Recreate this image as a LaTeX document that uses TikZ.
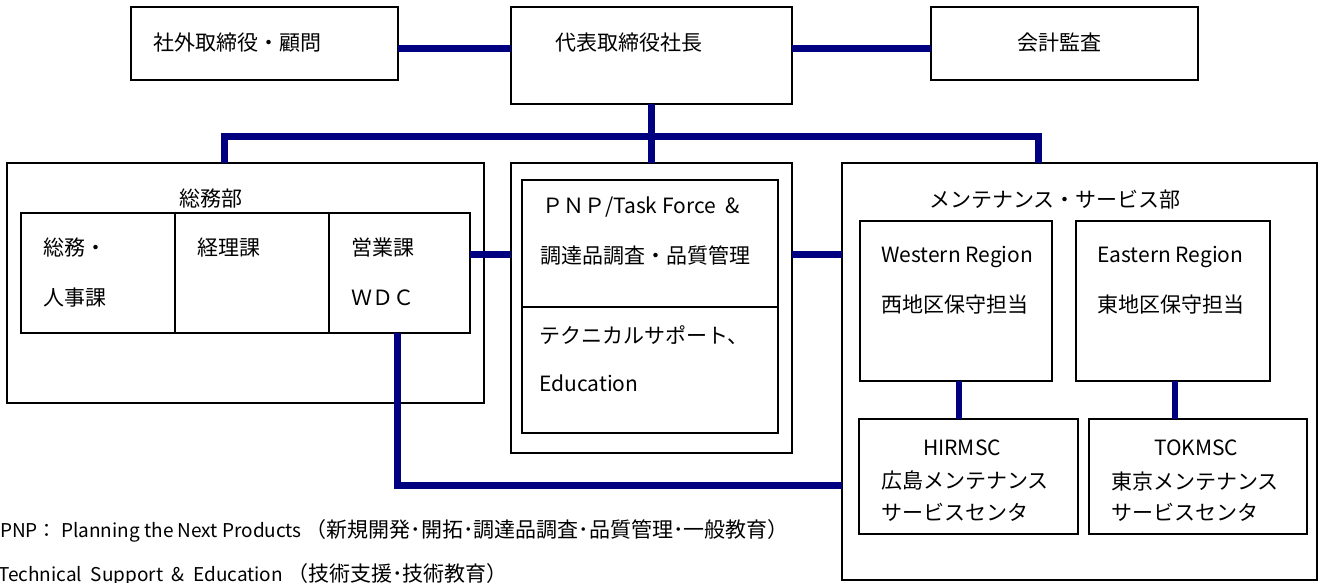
\documentclass[tikz,border=0pt]{standalone}
\usepackage{fontspec}
\setmainfont{Noto Sans CJK JP}
\definecolor{navyline}{RGB}{0,0,128}
\begin{document}
\begin{tikzpicture}[x=1pt,y=-1pt,
  outerbox/.style={draw=black,line width=2pt,inner sep=0pt,outer sep=0pt,anchor=north west},
  innerbox/.style={draw=black,line width=1.5pt,inner sep=0pt,outer sep=0pt,anchor=north west},
  link/.style={draw=navyline,line width=7pt},
  thinlink/.style={draw=navyline,line width=6pt},
  lbl/.style={anchor=west,inner sep=0pt,font=\fontsize{21}{24}\selectfont},
  note/.style={anchor=west,inner sep=0pt,font=\fontsize{19}{24}\selectfont}]
\useasboundingbox (0,0) rectangle (1320,582);
% top row
\node[outerbox,minimum width=267pt,minimum height=73pt] (adv) at (131,7) {};
\node[outerbox,minimum width=281pt,minimum height=97pt] (pres) at (511,7) {};
\node[outerbox,minimum width=267pt,minimum height=73pt] (audit) at (931,7) {};
% departments
\node[outerbox,minimum width=477pt,minimum height=240pt] (ga) at (7,163) {};
\node[outerbox,minimum width=281pt,minimum height=290pt] (mid) at (511,163) {};
\node[outerbox,minimum width=475pt,minimum height=417pt] (mt) at (842,163) {};
% general affairs sections
\node[innerbox,minimum width=154pt,minimum height=120pt] (s1) at (21,213) {};
\node[innerbox,minimum width=154pt,minimum height=120pt] (s2) at (175,213) {};
\node[innerbox,minimum width=141pt,minimum height=120pt] (s3) at (329,213) {};
% middle inner
\node[innerbox,minimum width=256pt,minimum height=127pt] (mA) at (522,180) {};
\node[innerbox,minimum width=256pt,minimum height=126pt] (mB) at (522,307) {};
% maintenance
\node[innerbox,minimum width=192pt,minimum height=160pt] (wr) at (860,221) {};
\node[innerbox,minimum width=194pt,minimum height=160pt] (er) at (1076,221) {};
\node[innerbox,minimum width=219pt,minimum height=115pt] (hir) at (859,419) {};
\node[innerbox,minimum width=218pt,minimum height=115pt] (tok) at (1089,419) {};
% coordinates for connectors
\coordinate (busM) at (651,136);
\coordinate (busL) at (224,136);
\coordinate (busR) at (1038,136);
\coordinate (linkY) at (0,254);
\coordinate (topY) at (0,48);
\coordinate (wdcturn) at (397,485);
\coordinate (wX) at (959,0);
\coordinate (eX) at (1175,0);
% connectors
\draw[link] (adv.east |- topY) -- (pres.west |- topY);
\draw[link] (pres.east |- topY) -- (audit.west |- topY);
\draw[link] (pres.south -| busM) -- (mid.north -| busM);
\draw[link] (busL |- ga.north) -- (busL) -- (busR) -- (busR |- mt.north);
\draw[link] (s3.east |- linkY) -- (mid.west |- linkY);
\draw[link] (mid.east |- linkY) -- (mt.west |- linkY);
\draw[link] (s3.south -| wdcturn) -- (wdcturn) -- (wdcturn -| mt.west);
\draw[thinlink] (wr.south -| wX) -- (hir.north -| wX);
\draw[thinlink] (er.south -| eX) -- (tok.north -| eX);
% labels
\node[lbl] (tadv) at (153,43) {社外取締役・顧問};
\node[lbl] (tpres) at (555,43) {代表取締役社長};
\node[lbl] (taudit) at (1017,43) {会計監査};
\node[lbl] (tga) at (179,199) {総務部};
\node[lbl] (t1a) at (43,248) {総務・};
\node[lbl] (t1b) at (43,298) {人事課};
\node[lbl] (t2) at (197,248) {経理課};
\node[lbl] (t3a) at (351,248) {営業課};
\node[lbl] (t3b) at (351,298) {ＷＤＣ};
\node[lbl] (tmA1) at (542,207) {ＰＮＰ/Task Force\ \ \&};
\node[lbl] (tmA2) at (540,256) {調達品調査・品質管理};
\node[lbl] (tmB1) at (539,335) {テクニカルサポート、};
\node[lbl] (tmB2) at (539,383) {Education};
\node[lbl] (tmt) at (929,200) {メンテナンス・サービス部};
\node[lbl] (twr1) at (881,257) {Western Region};
\node[lbl] (twr2) at (881,305) {西地区保守担当};
\node[lbl] (ter1) at (1097,257) {Eastern Region};
\node[lbl] (ter2) at (1097,305) {東地区保守担当};
\node[lbl] (thir1) at (923,448) {HIRMSC};
\node[lbl] (thir2) at (881,481) {広島メンテナンス};
\node[lbl] (thir3) at (881,512) {サービスセンタ};
\node[lbl] (ttok1) at (1154,448) {TOKMSC};
\node[lbl] (ttok2) at (1111,481) {東京メンテナンス};
\node[lbl] (ttok3) at (1111,512) {サービスセンタ};
% footnotes
\node[note] (n1) at (0,531) {PNP：\ Planning the Next Products {\fontsize{21}{24}\selectfont （新規開発･開拓･調達品調査･品質管理･一般教育）}};
\node[note] (n2) at (-2,575) {Technical\ \ Support\ \ \&\ \ Education {\fontsize{21}{24}\selectfont （技術支援･技術教育）}};
\end{tikzpicture}
\end{document}
